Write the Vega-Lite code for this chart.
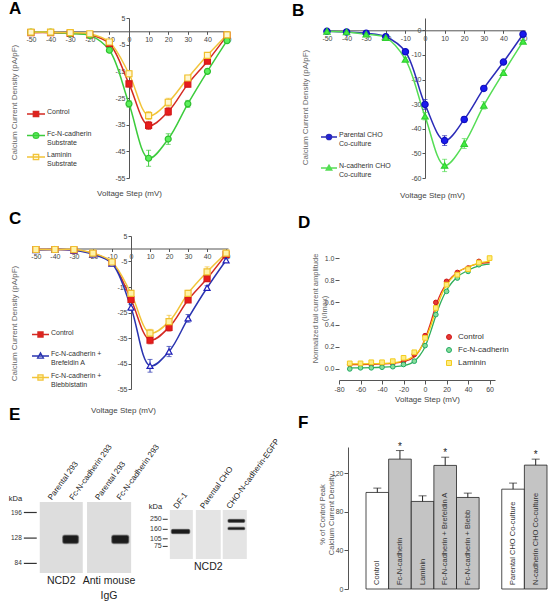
{
  "$schema": "https://vega.github.io/schema/vega-lite/v6.json",
  "autosize": {"type": "none"},
  "padding": {"left": 29, "top": 18, "right": 529, "bottom": 583},
  "background": "white",
  "config": {
    "font": "Liberation Sans",
    "view": {"stroke": null},
    "axis": {"grid": false, "labelFontSize": 7, "labelColor": "#444", "domainColor": "#555", "tickColor": "#555", "tickSize": 3, "titleFontSize": 8, "titleFontWeight": "normal", "titleColor": "#666", "labelFlush": false, "labelOverlap": false, "labelPadding": 1},
    "title": {"fontSize": 17, "fontWeight": "bold", "anchor": "start", "frame": "group", "baseline": "alphabetic", "color": "#000"}
  },
  "datasets": {
    "ivA": [
      {"s":"Control","v":-50,"i":-0.5,"e":0.2},{"s":"Control","v":-40,"i":-0.5,"e":0.2},{"s":"Control","v":-30,"i":-0.8,"e":0.2},{"s":"Control","v":-20,"i":-1.3,"e":0.3},{"s":"Control","v":-10,"i":-4.6,"e":0.6},{"s":"Control","v":0,"i":-19.7,"e":1.2},{"s":"Control","v":10,"i":-35.3,"e":1.5},{"s":"Control","v":20,"i":-30.1,"e":1.5},{"s":"Control","v":30,"i":-19.8,"e":1.0},{"s":"Control","v":40,"i":-11.2,"e":0.8},{"s":"Control","v":50,"i":-1.5,"e":0.5},
      {"s":"Fc-N-cadherin|Substrate","v":-50,"i":-0.3,"e":0.2},{"s":"Fc-N-cadherin|Substrate","v":-40,"i":-0.3,"e":0.2},{"s":"Fc-N-cadherin|Substrate","v":-30,"i":-0.8,"e":0.2},{"s":"Fc-N-cadherin|Substrate","v":-20,"i":-1.5,"e":0.3},{"s":"Fc-N-cadherin|Substrate","v":-10,"i":-7.1,"e":0.8},{"s":"Fc-N-cadherin|Substrate","v":0,"i":-27.2,"e":1.2},{"s":"Fc-N-cadherin|Substrate","v":10,"i":-47.6,"e":3.0},{"s":"Fc-N-cadherin|Substrate","v":20,"i":-40.4,"e":2.0},{"s":"Fc-N-cadherin|Substrate","v":30,"i":-27.2,"e":1.3},{"s":"Fc-N-cadherin|Substrate","v":40,"i":-15.0,"e":0.8},{"s":"Fc-N-cadherin|Substrate","v":50,"i":-3.5,"e":0.5},
      {"s":"Laminin|Substrate","v":-50,"i":-0.3,"e":0.2},{"s":"Laminin|Substrate","v":-40,"i":-0.3,"e":0.2},{"s":"Laminin|Substrate","v":-30,"i":-0.5,"e":0.2},{"s":"Laminin|Substrate","v":-20,"i":-0.9,"e":0.3},{"s":"Laminin|Substrate","v":-10,"i":-4.0,"e":0.6},{"s":"Laminin|Substrate","v":0,"i":-15.9,"e":1.2},{"s":"Laminin|Substrate","v":10,"i":-31.6,"e":1.5},{"s":"Laminin|Substrate","v":20,"i":-26.6,"e":1.5},{"s":"Laminin|Substrate","v":30,"i":-17.5,"e":1.0},{"s":"Laminin|Substrate","v":40,"i":-9.0,"e":0.8},{"s":"Laminin|Substrate","v":50,"i":-1.3,"e":0.5}
    ],
    "ivB": [
      {"s":"Parental CHO|Co-culture","v":-50,"i":-0.4,"e":0.2},{"s":"Parental CHO|Co-culture","v":-40,"i":-0.7,"e":0.2},{"s":"Parental CHO|Co-culture","v":-30,"i":-1.2,"e":0.2},{"s":"Parental CHO|Co-culture","v":-20,"i":-2.6,"e":0.3},{"s":"Parental CHO|Co-culture","v":-10,"i":-8.7,"e":0.8},{"s":"Parental CHO|Co-culture","v":0,"i":-30.1,"e":2.0},{"s":"Parental CHO|Co-culture","v":10,"i":-44.8,"e":2.0},{"s":"Parental CHO|Co-culture","v":20,"i":-36.2,"e":1.2},{"s":"Parental CHO|Co-culture","v":30,"i":-23.6,"e":0.8},{"s":"Parental CHO|Co-culture","v":40,"i":-12.9,"e":0.6},{"s":"Parental CHO|Co-culture","v":50,"i":-1.6,"e":0.4},
      {"s":"N-cadherin CHO|Co-culture","v":-50,"i":-0.4,"e":0.2},{"s":"N-cadherin CHO|Co-culture","v":-40,"i":-0.7,"e":0.2},{"s":"N-cadherin CHO|Co-culture","v":-30,"i":-1.6,"e":0.2},{"s":"N-cadherin CHO|Co-culture","v":-20,"i":-3.0,"e":0.3},{"s":"N-cadherin CHO|Co-culture","v":-10,"i":-11.8,"e":0.8},{"s":"N-cadherin CHO|Co-culture","v":0,"i":-34.9,"e":1.5},{"s":"N-cadherin CHO|Co-culture","v":10,"i":-54.9,"e":2.5},{"s":"N-cadherin CHO|Co-culture","v":20,"i":-46.0,"e":2.0},{"s":"N-cadherin CHO|Co-culture","v":30,"i":-30.5,"e":1.5},{"s":"N-cadherin CHO|Co-culture","v":40,"i":-17.2,"e":1.0},{"s":"N-cadherin CHO|Co-culture","v":50,"i":-4.5,"e":0.5}
    ],
    "ivC": [
      {"s":"Control","v":-50,"i":-0.3,"e":0.2},{"s":"Control","v":-40,"i":-0.3,"e":0.2},{"s":"Control","v":-30,"i":-0.5,"e":0.2},{"s":"Control","v":-20,"i":-1.9,"e":0.3},{"s":"Control","v":-10,"i":-5.5,"e":0.5},{"s":"Control","v":0,"i":-19.9,"e":1.0},{"s":"Control","v":10,"i":-35.8,"e":1.5},{"s":"Control","v":20,"i":-30.8,"e":1.5},{"s":"Control","v":30,"i":-20.1,"e":1.0},{"s":"Control","v":40,"i":-11.7,"e":1.0},{"s":"Control","v":50,"i":-2.2,"e":0.6},
      {"s":"Fc-N-cadherin +|Brefeldin A","v":-50,"i":-0.5,"e":0.2},{"s":"Fc-N-cadherin +|Brefeldin A","v":-40,"i":-0.3,"e":0.2},{"s":"Fc-N-cadherin +|Brefeldin A","v":-30,"i":-0.6,"e":0.2},{"s":"Fc-N-cadherin +|Brefeldin A","v":-20,"i":-2.2,"e":0.3},{"s":"Fc-N-cadherin +|Brefeldin A","v":-10,"i":-5.8,"e":0.5},{"s":"Fc-N-cadherin +|Brefeldin A","v":0,"i":-23.0,"e":1.2},{"s":"Fc-N-cadherin +|Brefeldin A","v":10,"i":-45.9,"e":2.5},{"s":"Fc-N-cadherin +|Brefeldin A","v":20,"i":-40.3,"e":2.0},{"s":"Fc-N-cadherin +|Brefeldin A","v":30,"i":-27.3,"e":1.5},{"s":"Fc-N-cadherin +|Brefeldin A","v":40,"i":-15.3,"e":0.8},{"s":"Fc-N-cadherin +|Brefeldin A","v":50,"i":-4.5,"e":0.5},
      {"s":"Fc-N-cadherin +|Blebbistatin","v":-50,"i":-0.3,"e":0.2},{"s":"Fc-N-cadherin +|Blebbistatin","v":-40,"i":-0.3,"e":0.2},{"s":"Fc-N-cadherin +|Blebbistatin","v":-30,"i":-0.3,"e":0.2},{"s":"Fc-N-cadherin +|Blebbistatin","v":-20,"i":-1.7,"e":0.3},{"s":"Fc-N-cadherin +|Blebbistatin","v":-10,"i":-5.2,"e":0.5},{"s":"Fc-N-cadherin +|Blebbistatin","v":0,"i":-17.5,"e":1.2},{"s":"Fc-N-cadherin +|Blebbistatin","v":10,"i":-33.1,"e":1.5},{"s":"Fc-N-cadherin +|Blebbistatin","v":20,"i":-28.6,"e":2.5},{"s":"Fc-N-cadherin +|Blebbistatin","v":30,"i":-17.5,"e":1.2},{"s":"Fc-N-cadherin +|Blebbistatin","v":40,"i":-9.1,"e":2.0},{"s":"Fc-N-cadherin +|Blebbistatin","v":50,"i":-1.7,"e":0.6}
    ],
    "dPts": [
      {"s":"Control","v":-70,"y":0.04},{"s":"Control","v":-60,"y":0.04},{"s":"Control","v":-50,"y":0.04},{"s":"Control","v":-40,"y":0.045},{"s":"Control","v":-30,"y":0.05},{"s":"Control","v":-20,"y":0.07},{"s":"Control","v":-10,"y":0.13},{"s":"Control","v":0,"y":0.3},{"s":"Control","v":10,"y":0.6},{"s":"Control","v":20,"y":0.79},{"s":"Control","v":30,"y":0.87},{"s":"Control","v":40,"y":0.91},{"s":"Control","v":50,"y":0.97},
      {"s":"Fc-N-cadherin","v":-70,"y":0.0},{"s":"Fc-N-cadherin","v":-60,"y":0.01},{"s":"Fc-N-cadherin","v":-50,"y":0.01},{"s":"Fc-N-cadherin","v":-40,"y":0.015},{"s":"Fc-N-cadherin","v":-30,"y":0.02},{"s":"Fc-N-cadherin","v":-20,"y":0.04},{"s":"Fc-N-cadherin","v":-10,"y":0.07},{"s":"Fc-N-cadherin","v":0,"y":0.21},{"s":"Fc-N-cadherin","v":10,"y":0.49},{"s":"Fc-N-cadherin","v":20,"y":0.7},{"s":"Fc-N-cadherin","v":30,"y":0.82},{"s":"Fc-N-cadherin","v":40,"y":0.88},{"s":"Fc-N-cadherin","v":50,"y":0.94},
      {"s":"Laminin","v":-70,"y":0.05},{"s":"Laminin","v":-60,"y":0.05},{"s":"Laminin","v":-50,"y":0.06},{"s":"Laminin","v":-40,"y":0.06},{"s":"Laminin","v":-30,"y":0.07},{"s":"Laminin","v":-20,"y":0.1},{"s":"Laminin","v":-10,"y":0.15},{"s":"Laminin","v":0,"y":0.28},{"s":"Laminin","v":10,"y":0.55},{"s":"Laminin","v":20,"y":0.76},{"s":"Laminin","v":30,"y":0.85},{"s":"Laminin","v":40,"y":0.9},{"s":"Laminin","v":50,"y":0.96},{"s":"Laminin","v":60,"y":1.0}
    ],
    "dFit": [
      {"s":"Control","v":-70,"y":0.04},{"s":"Control","v":-60,"y":0.04},{"s":"Control","v":-50,"y":0.042},{"s":"Control","v":-40,"y":0.045},{"s":"Control","v":-30,"y":0.05},{"s":"Control","v":-20,"y":0.065},{"s":"Control","v":-10,"y":0.11},{"s":"Control","v":-5,"y":0.17},{"s":"Control","v":0,"y":0.27},{"s":"Control","v":5,"y":0.41},{"s":"Control","v":10,"y":0.57},{"s":"Control","v":15,"y":0.69},{"s":"Control","v":20,"y":0.77},{"s":"Control","v":25,"y":0.83},{"s":"Control","v":30,"y":0.87},{"s":"Control","v":40,"y":0.92},{"s":"Control","v":50,"y":0.95},{"s":"Control","v":60,"y":0.96},
      {"s":"Fc-N-cadherin","v":-70,"y":0.01},{"s":"Fc-N-cadherin","v":-50,"y":0.012},{"s":"Fc-N-cadherin","v":-40,"y":0.015},{"s":"Fc-N-cadherin","v":-30,"y":0.02},{"s":"Fc-N-cadherin","v":-20,"y":0.03},{"s":"Fc-N-cadherin","v":-10,"y":0.07},{"s":"Fc-N-cadherin","v":-5,"y":0.12},{"s":"Fc-N-cadherin","v":0,"y":0.2},{"s":"Fc-N-cadherin","v":5,"y":0.33},{"s":"Fc-N-cadherin","v":10,"y":0.48},{"s":"Fc-N-cadherin","v":15,"y":0.61},{"s":"Fc-N-cadherin","v":20,"y":0.71},{"s":"Fc-N-cadherin","v":25,"y":0.78},{"s":"Fc-N-cadherin","v":30,"y":0.83},{"s":"Fc-N-cadherin","v":40,"y":0.89},{"s":"Fc-N-cadherin","v":50,"y":0.93},{"s":"Fc-N-cadherin","v":60,"y":0.945},
      {"s":"Laminin","v":-70,"y":0.045},{"s":"Laminin","v":-50,"y":0.047},{"s":"Laminin","v":-40,"y":0.05},{"s":"Laminin","v":-30,"y":0.055},{"s":"Laminin","v":-20,"y":0.07},{"s":"Laminin","v":-10,"y":0.12},{"s":"Laminin","v":-5,"y":0.17},{"s":"Laminin","v":0,"y":0.26},{"s":"Laminin","v":5,"y":0.38},{"s":"Laminin","v":10,"y":0.53},{"s":"Laminin","v":15,"y":0.66},{"s":"Laminin","v":20,"y":0.76},{"s":"Laminin","v":25,"y":0.82},{"s":"Laminin","v":30,"y":0.87},{"s":"Laminin","v":40,"y":0.92},{"s":"Laminin","v":50,"y":0.955},{"s":"Laminin","v":60,"y":0.97}
    ],
    "fBars": [
      {"cond":"Control","val":100,"hi":104.5,"sig":false},
      {"cond":"Fc-N-cadherin","val":134.5,"hi":143.4,"sig":true},
      {"cond":"Laminin","val":90.7,"hi":96.5,"sig":false},
      {"cond":"Fc-N-cadherin + Brefeldin A","val":128,"hi":136.5,"sig":true},
      {"cond":"Fc-N-cadherin + Blebb","val":94.8,"hi":99.3,"sig":false},
      {"cond":"Parental CHO Co-culture","val":103.4,"hi":109.7,"sig":false},
      {"cond":"N-cadherin CHO Co-culture","val":128.3,"hi":134.5,"sig":true}
    ],
    "eMem": [
      {"g":"L","lane_from":0.5,"lane_to":2.5,"kd_top":233,"kd_bot":71.7},
      {"g":"L","lane_from":2.7,"lane_to":4.75,"kd_top":233,"kd_bot":71.7},
      {"g":"R","lane_from":6.55,"lane_to":7.62,"kd_top":378,"kd_bot":42.9},
      {"g":"R","lane_from":7.76,"lane_to":8.92,"kd_top":378,"kd_bot":42.9},
      {"g":"R","lane_from":9.01,"lane_to":10.13,"kd_top":378,"kd_bot":42.9}
    ],
    "eBand": [
      {"g":"L","lane_from":1.57,"lane_to":2.3,"kd_top":134,"kd_bot":117},
      {"g":"L","lane_from":3.85,"lane_to":4.64,"kd_top":134,"kd_bot":117},
      {"g":"R","lane_from":6.62,"lane_to":7.48,"kd_top":160,"kd_bot":132},
      {"g":"R","lane_from":9.25,"lane_to":10.04,"kd_top":250,"kd_bot":218},
      {"g":"R","lane_from":9.25,"lane_to":10.04,"kd_top":176,"kd_bot":157}
    ],
    "eMark": [
      {"g":"L","kDa":196,"lane_from":-0.24,"lane_to":0.36},
      {"g":"L","kDa":128,"lane_from":-0.24,"lane_to":0.36},
      {"g":"L","kDa":84,"lane_from":-0.24,"lane_to":0.36},
      {"g":"R","kDa":250,"lane_from":6.22,"lane_to":6.45},
      {"g":"R","kDa":160,"lane_from":6.22,"lane_to":6.45},
      {"g":"R","kDa":105,"lane_from":6.22,"lane_to":6.45},
      {"g":"R","kDa":75,"lane_from":6.22,"lane_to":6.45}
    ],
    "eHead": [
      {"g":"L","lane":-0.94,"kDa":245,"text":"kDa"},
      {"g":"R","lane":5.57,"kDa":433,"text":"kDa"}
    ],
    "eLane": [
      {"g":"L","lane":1.0,"kDa":233,"text":"Parental 293"},
      {"g":"L","lane":2.0,"kDa":233,"text":"Fc-N-cadherin 293"},
      {"g":"L","lane":3.2,"kDa":233,"text":"Parental 293"},
      {"g":"L","lane":4.2,"kDa":233,"text":"Fc-N-cadherin 293"},
      {"g":"R","lane":7.1,"kDa":378,"text":"DF-1"},
      {"g":"R","lane":8.34,"kDa":378,"text":"Parental CHO"},
      {"g":"R","lane":9.57,"kDa":378,"text":"CHO-N-cadherin-EGFP"}
    ],
    "eCap": [
      {"g":"L","lane":1.5,"kDa":71.7,"text":"NCD2"},
      {"g":"L","lane":3.72,"kDa":71.7,"text":"Anti mouse|IgG"},
      {"g":"R","lane":8.34,"kDa":42.9,"text":"NCD2"}
    ]
  },
  "columns": 2,
  "spacing": {"row": 58, "column": 96},
  "bounds": "flush",
  "resolve": {"scale": {"color": "independent", "fill": "independent", "stroke": "independent", "shape": "independent"}},
  "concat": [
    {
      "width": 200, "height": 160,
      "title": {"text": "A", "dx": -20, "offset": -4},
      "data": {"name": "ivA"},
      "resolve": {"scale": {"shape": "independent", "fill": "independent", "stroke": "independent"}},
      "encoding": {
        "x": {"field": "v", "type": "quantitative", "scale": {"domain": [-51, 51], "nice": false, "zero": false},
              "axis": {"title": "Voltage Step (mV)", "values": [-50,-40,-30,-20,-10,0,10,20,30,40,50], "offset": -146.7, "labelExpr": "'' + datum.value", "labelOverlap": false, "titleX": 100, "titleY": 158, "titleColor": "#444"}},
        "y": {"field": "i", "type": "quantitative", "scale": {"domain": [-55, 5], "nice": false, "zero": false},
              "axis": {"title": "Calcium Current Density (pA/pF)", "values": [5,-5,-15,-25,-35,-45,-55], "offset": -100, "labelExpr": "'' + datum.value", "labelOverlap": false, "titleX": -111, "titleY": 84}}
      },
      "layer": [
        {"mark": {"type": "line", "interpolate": "catmull-rom", "strokeWidth": 1.5},
         "encoding": {"color": {"field": "s", "type": "nominal", "scale": {"domain": ["Control", "Fc-N-cadherin|Substrate", "Laminin|Substrate"], "range": ["#d42a22", "#3ccc3c", "#f2c43a"]}, "legend": null}}},
        {"mark": {"type": "errorbar", "ticks": true, "thickness": 1},
         "encoding": {"yError": {"field": "e"}, "color": {"field": "s", "type": "nominal", "legend": null}}},
        {"mark": {"type": "point", "size": 36, "strokeWidth": 1.2, "opacity": 1},
         "encoding": {
           "shape": {"field": "s", "type": "nominal", "scale": {"domain": ["Control", "Fc-N-cadherin|Substrate", "Laminin|Substrate"], "range": ["square", "circle", "square"]}, "legend": null},
           "fill": {"field": "s", "type": "nominal", "scale": {"domain": ["Control", "Fc-N-cadherin|Substrate", "Laminin|Substrate"], "range": ["#e81c1c", "#5cf05c", "#fff7d0"]}, "legend": null},
           "stroke": {"field": "s", "type": "nominal", "scale": {"domain": ["Control", "Fc-N-cadherin|Substrate", "Laminin|Substrate"], "range": ["#d41a1a", "#2fbf2f", "#f0bf2a"]}, "legend": null}
         }},
        {"transform": [{"filter": "datum.v === -50"}],
         "mark": {"type": "point", "opacity": 0, "strokeWidth": 1.3},
         "encoding": {
           "shape": {"field": "s", "type": "nominal", "scale": {"domain": ["Control", "Fc-N-cadherin|Substrate", "Laminin|Substrate"], "range": ["M-1,0H1M-0.3,-0.3H0.3V0.3H-0.3Z", "M-1,0H1M0.32,0A0.32,0.32,0,1,1,-0.32,0A0.32,0.32,0,1,1,0.32,0Z", "M-1,0H1M-0.3,-0.3H0.3V0.3H-0.3Z"]},
                     "legend": {"orient": "none", "legendX": -3, "legendY": 86, "title": null, "labelFontSize": 7, "labelColor": "#333", "symbolSize": 324, "symbolStrokeWidth": 1.3, "symbolOpacity": 1, "labelOffset": 1, "rowPadding": 1.5, "labelExpr": "datum.label === 'Control' ? ['Control', ''] : split(datum.label, '|')", "labelBaseline": "alphabetic"}},
           "fill": {"field": "s", "type": "nominal", "scale": {"domain": ["Control", "Fc-N-cadherin|Substrate", "Laminin|Substrate"], "range": ["#e81c1c", "#5cf05c", "#fff7d0"]}},
           "stroke": {"field": "s", "type": "nominal", "scale": {"domain": ["Control", "Fc-N-cadherin|Substrate", "Laminin|Substrate"], "range": ["#d42a22", "#3ccc3c", "#f2c43a"]}}
         }}
      ]
    },
    {
      "width": 200, "height": 160,
      "title": {"text": "B", "dx": -33, "offset": -2},
      "data": {"name": "ivB"},
      "resolve": {"scale": {"shape": "independent", "fill": "independent", "stroke": "independent"}},
      "encoding": {
        "x": {"field": "v", "type": "quantitative", "scale": {"domain": [-51, 51], "nice": false, "zero": false},
              "axis": {"title": "Voltage Step (mV)", "values": [-50,-40,-30,-20,-10,0,10,20,30,40,50], "offset": -147.7, "labelExpr": "'' + datum.value", "labelOverlap": false, "titleX": 107, "titleY": 160.7, "titleColor": "#444"}},
        "y": {"field": "i", "type": "quantitative", "scale": {"domain": [-60, 5], "nice": false, "zero": false},
              "axis": {"title": "Calcium Current Density (pA/pF)", "values": [0,-10,-20,-30,-40,-50,-60], "offset": -100, "labelExpr": "'' + datum.value", "labelOverlap": false, "titleX": -116, "titleY": 89}}
      },
      "layer": [
        {"mark": {"type": "line", "interpolate": "catmull-rom", "strokeWidth": 1.5},
         "encoding": {"color": {"field": "s", "type": "nominal", "scale": {"domain": ["Parental CHO|Co-culture", "N-cadherin CHO|Co-culture"], "range": ["#2b2bb8", "#55dd55"]}, "legend": null}}},
        {"mark": {"type": "errorbar", "ticks": true, "thickness": 1},
         "encoding": {"yError": {"field": "e"}, "color": {"field": "s", "type": "nominal", "legend": null}}},
        {"mark": {"type": "point", "size": 40, "strokeWidth": 1.2, "opacity": 1},
         "encoding": {
           "shape": {"field": "s", "type": "nominal", "scale": {"domain": ["Parental CHO|Co-culture", "N-cadherin CHO|Co-culture"], "range": ["circle", "triangle-up"]}, "legend": null},
           "fill": {"field": "s", "type": "nominal", "scale": {"domain": ["Parental CHO|Co-culture", "N-cadherin CHO|Co-culture"], "range": ["#1a1aee", "#44ee44"]}, "legend": null},
           "stroke": {"field": "s", "type": "nominal", "scale": {"domain": ["Parental CHO|Co-culture", "N-cadherin CHO|Co-culture"], "range": ["#1010c0", "#30d030"]}, "legend": null}
         }},
        {"transform": [{"filter": "datum.v === -50"}],
         "mark": {"type": "point", "opacity": 0, "strokeWidth": 1.3},
         "encoding": {
           "shape": {"field": "s", "type": "nominal", "scale": {"domain": ["Parental CHO|Co-culture", "N-cadherin CHO|Co-culture"], "range": ["M-1,0H1M0.34,0A0.34,0.34,0,1,1,-0.34,0A0.34,0.34,0,1,1,0.34,0Z", "M-1,0H1M0,-0.38L0.36,0.26H-0.36Z"]},
                     "legend": {"orient": "none", "legendX": -5, "legendY": 110, "title": null, "labelFontSize": 7, "labelColor": "#333", "symbolSize": 256, "symbolStrokeWidth": 1.3, "symbolOpacity": 1, "labelOffset": 1, "rowPadding": 12, "labelExpr": "split(datum.label, '|')", "labelBaseline": "alphabetic"}},
           "fill": {"field": "s", "type": "nominal", "scale": {"domain": ["Parental CHO|Co-culture", "N-cadherin CHO|Co-culture"], "range": ["#1a1aee", "#44ee44"]}},
           "stroke": {"field": "s", "type": "nominal", "scale": {"domain": ["Parental CHO|Co-culture", "N-cadherin CHO|Co-culture"], "range": ["#2b2bb8", "#55dd55"]}}
         }}
      ]
    },
    {
      "width": 200, "height": 153,
      "title": {"text": "C", "dx": -20, "offset": 4},
      "data": {"name": "ivC"},
      "resolve": {"scale": {"shape": "independent", "fill": "independent", "stroke": "independent"}},
      "encoding": {
        "x": {"field": "v", "type": "quantitative", "scale": {"domain": [-51, 51], "range": [5, 199], "nice": false, "zero": false},
              "axis": {"title": "Voltage Step (mV)", "values": [-50,-40,-30,-20,-10,0,10,20,30,40,50], "offset": -140.5, "labelExpr": "'' + datum.value", "labelOverlap": false, "titleX": 94, "titleY": 157.5, "titleColor": "#444"}},
        "y": {"field": "i", "type": "quantitative", "scale": {"domain": [-55, 5], "nice": false, "zero": false},
              "axis": {"title": "Calcium Current Density (pA/pF)", "values": [5,-5,-15,-25,-35,-45,-55], "offset": -102, "labelExpr": "'' + datum.value", "labelOverlap": false, "titleX": -113, "titleY": 87}}
      },
      "layer": [
        {"mark": {"type": "line", "interpolate": "catmull-rom", "strokeWidth": 1.5},
         "encoding": {"color": {"field": "s", "type": "nominal", "scale": {"domain": ["Control", "Fc-N-cadherin +|Brefeldin A", "Fc-N-cadherin +|Blebbistatin"], "range": ["#d42a22", "#2a34b0", "#f2c43a"]}, "legend": null}}},
        {"mark": {"type": "errorbar", "ticks": true, "thickness": 1},
         "encoding": {"yError": {"field": "e"}, "color": {"field": "s", "type": "nominal", "legend": null}}},
        {"mark": {"type": "point", "size": 36, "strokeWidth": 1.2, "opacity": 1},
         "encoding": {
           "shape": {"field": "s", "type": "nominal", "scale": {"domain": ["Control", "Fc-N-cadherin +|Brefeldin A", "Fc-N-cadherin +|Blebbistatin"], "range": ["square", "triangle-up", "square"]}, "legend": null},
           "fill": {"field": "s", "type": "nominal", "scale": {"domain": ["Control", "Fc-N-cadherin +|Brefeldin A", "Fc-N-cadherin +|Blebbistatin"], "range": ["#e81c1c", "#ffffff", "#fff3a8"]}, "legend": null},
           "stroke": {"field": "s", "type": "nominal", "scale": {"domain": ["Control", "Fc-N-cadherin +|Brefeldin A", "Fc-N-cadherin +|Blebbistatin"], "range": ["#d41a1a", "#2020b8", "#f0c030"]}, "legend": null}
         }},
        {"transform": [{"filter": "datum.v === -50"}],
         "mark": {"type": "point", "opacity": 0, "strokeWidth": 1.3},
         "encoding": {
           "shape": {"field": "s", "type": "nominal", "scale": {"domain": ["Control", "Fc-N-cadherin +|Brefeldin A", "Fc-N-cadherin +|Blebbistatin"], "range": ["M-1,0H1M-0.3,-0.3H0.3V0.3H-0.3Z", "M-1,0H1M0,-0.36L0.34,0.24H-0.34Z", "M-1,0H1M-0.3,-0.3H0.3V0.3H-0.3Z"]},
                     "legend": {"orient": "none", "legendX": 2, "legendY": 89, "title": null, "labelFontSize": 7, "labelColor": "#333", "symbolSize": 289, "symbolStrokeWidth": 1.3, "symbolOpacity": 1, "labelOffset": 1, "rowPadding": 1.5, "labelExpr": "datum.label === 'Control' ? ['Control', ''] : split(datum.label, '|')", "labelBaseline": "alphabetic"}},
           "fill": {"field": "s", "type": "nominal", "scale": {"domain": ["Control", "Fc-N-cadherin +|Brefeldin A", "Fc-N-cadherin +|Blebbistatin"], "range": ["#e81c1c", "#ffffff", "#fff3a8"]}},
           "stroke": {"field": "s", "type": "nominal", "scale": {"domain": ["Control", "Fc-N-cadherin +|Brefeldin A", "Fc-N-cadherin +|Blebbistatin"], "range": ["#d42a22", "#2a34b0", "#f2c43a"]}}
         }}
      ]
    },
    {
      "width": 200, "height": 144,
      "title": {"text": "D", "dx": -27, "offset": 4},
      "resolve": {"scale": {"shape": "independent", "fill": "independent", "stroke": "independent"}},
      "encoding": {
        "x": {"field": "v", "type": "quantitative", "scale": {"domain": [-80, 65], "range": [14, 170], "nice": false, "zero": false},
              "axis": {"title": "Voltage Step (mV)", "values": [-80,-60,-40,-20,0,20,40,60], "labelExpr": "'' + datum.value", "labelOverlap": false, "labelBound": false, "titleX": 102, "titleY": 15, "titleColor": "#444", "tickSize": 4}},
        "y": {"field": "y", "type": "quantitative", "scale": {"domain": [-0.1, 1.1993], "nice": false, "zero": false},
              "axis": {"title": ["Normalized tail current amplitude", "(I/Imax)"], "values": [0, 0.2, 0.4, 0.6, 0.8, 1.0], "offset": -14, "domain": false, "format": ".1f", "labelOverlap": false, "labelBound": false, "titleX": -20, "titleY": 72, "tickSize": 4, "titleFontSize": 7.5}}
      },
      "layer": [
        {"mark": {"type": "rule", "color": "#555", "strokeWidth": 1},
         "encoding": {"x": {"datum": -80}, "y": {"datum": -0.1}, "y2": {"datum": 1.1}}},
        {"data": {"name": "dFit"},
         "mark": {"type": "line", "interpolate": "monotone", "strokeWidth": 1.3},
         "encoding": {
           "color": {"field": "s", "type": "nominal", "scale": {"domain": ["Control", "Fc-N-cadherin", "Laminin"], "range": ["#e02a22", "#2fae5a", "#f4cf10"]}, "legend": null}
         }},
        {"data": {"name": "dPts"},
         "mark": {"type": "point", "size": 22, "strokeWidth": 1, "opacity": 1},
         "encoding": {
           "shape": {"field": "s", "type": "nominal", "scale": {"domain": ["Control", "Fc-N-cadherin", "Laminin"], "range": ["circle", "circle", "square"]}, "legend": null},
           "fill": {"field": "s", "type": "nominal", "scale": {"domain": ["Control", "Fc-N-cadherin", "Laminin"], "range": ["#e53935", "#88dd99", "#ffec80"]}, "legend": null},
           "stroke": {"field": "s", "type": "nominal", "scale": {"domain": ["Control", "Fc-N-cadherin", "Laminin"], "range": ["#d01818", "#22aa66", "#f2cc20"]}, "legend": null}
         }},
        {"data": {"name": "dPts"}, "transform": [{"filter": "datum.v === -70"}],
         "mark": {"type": "point", "opacity": 0, "strokeWidth": 1},
         "encoding": {
           "shape": {"field": "s", "type": "nominal", "scale": {"domain": ["Control", "Fc-N-cadherin", "Laminin"], "range": ["circle", "circle", "square"]},
                     "legend": {"orient": "none", "legendX": 120, "legendY": 97, "title": null, "labelFontSize": 8, "labelColor": "#333", "symbolSize": 25, "symbolStrokeWidth": 1, "symbolOpacity": 1, "rowPadding": 3, "labelOffset": 5}},
           "fill": {"field": "s", "type": "nominal", "scale": {"domain": ["Control", "Fc-N-cadherin", "Laminin"], "range": ["#e53935", "#88dd99", "#ffec80"]}},
           "stroke": {"field": "s", "type": "nominal", "scale": {"domain": ["Control", "Fc-N-cadherin", "Laminin"], "range": ["#d01818", "#22aa66", "#f2cc20"]}}
         }}
      ]
    },
    {
      "width": 200, "height": 150,
      "title": {"text": "E", "dx": -20, "offset": 14},
      "resolve": {"scale": {"y": "independent"}},
      "layer": [
        {
          "layer": [
            {"data": {"name": "eMem"}, "transform": [{"filter": "datum.g === 'L'"}],
             "mark": {"type": "rect", "fill": "#dddddd"},
             "encoding": {"x": {"field": "lane_from", "type": "quantitative", "scale": {"domain": [0, 9.302], "nice": false, "zero": false}, "axis": null}, "x2": {"field": "lane_to"},
                          "y": {"field": "kd_top", "type": "quantitative", "scale": {"type": "log", "domain": [84, 196], "range": [116.4, 65.5], "nice": false}, "axis": null}, "y2": {"field": "kd_bot"}}},
            {"data": {"name": "eBand"}, "transform": [{"filter": "datum.g === 'L'"}],
             "mark": {"type": "rect", "fill": "#1c1c1c", "stroke": "#555", "strokeWidth": 1.5, "strokeOpacity": 0.5, "cornerRadius": 2},
             "encoding": {"x": {"field": "lane_from", "type": "quantitative"}, "x2": {"field": "lane_to"}, "y": {"field": "kd_top", "type": "quantitative"}, "y2": {"field": "kd_bot"}}},
            {"data": {"name": "eMark"}, "transform": [{"filter": "datum.g === 'L'"}],
             "mark": {"type": "rule", "color": "#333", "strokeWidth": 1.2},
             "encoding": {"x": {"field": "lane_from", "type": "quantitative"}, "x2": {"field": "lane_to"}, "y": {"field": "kDa", "type": "quantitative"}}},
            {"data": {"name": "eMark"}, "transform": [{"filter": "datum.g === 'L'"}],
             "mark": {"type": "text", "align": "right", "baseline": "middle", "dx": -2, "fontSize": 6.5, "color": "#333"},
             "encoding": {"x": {"field": "lane_from", "type": "quantitative"}, "y": {"field": "kDa", "type": "quantitative"}, "text": {"field": "kDa"}}},
            {"data": {"name": "eHead"}, "transform": [{"filter": "datum.g === 'L'"}],
             "mark": {"type": "text", "align": "left", "baseline": "middle", "fontSize": 7.5, "color": "#222"},
             "encoding": {"x": {"field": "lane", "type": "quantitative"}, "y": {"field": "kDa", "type": "quantitative"}, "text": {"field": "text"}}},
            {"data": {"name": "eLane"}, "transform": [{"filter": "datum.g === 'L'"}],
             "mark": {"type": "text", "align": "left", "baseline": "bottom", "angle": 306, "dx": 2, "dy": 2, "fontSize": 8, "color": "#222"},
             "encoding": {"x": {"field": "lane", "type": "quantitative"}, "y": {"field": "kDa", "type": "quantitative"}, "text": {"field": "text"}}},
            {"data": {"name": "eCap"}, "transform": [{"filter": "datum.g === 'L'"}, {"calculate": "split(datum.text, '|')", "as": "lines"}],
             "mark": {"type": "text", "align": "center", "baseline": "top", "dy": 3, "fontSize": 10.5, "lineHeight": 15, "color": "#222"},
             "encoding": {"x": {"field": "lane", "type": "quantitative"}, "y": {"field": "kDa", "type": "quantitative"}, "text": {"field": "lines"}}}
          ]
        },
        {
          "layer": [
            {"data": {"name": "eMem"}, "transform": [{"filter": "datum.g === 'R'"}],
             "mark": {"type": "rect", "fill": "#e4e4e4"},
             "encoding": {"x": {"field": "lane_from", "type": "quantitative"}, "x2": {"field": "lane_to"},
                          "y": {"field": "kd_top", "type": "quantitative", "scale": {"type": "log", "domain": [75, 250], "range": [99.4, 72.3], "nice": false}, "axis": null}, "y2": {"field": "kd_bot"}}},
            {"data": {"name": "eBand"}, "transform": [{"filter": "datum.g === 'R'"}],
             "mark": {"type": "rect", "fill": "#1c1c1c", "stroke": "#555", "strokeWidth": 1.2, "strokeOpacity": 0.5, "cornerRadius": 1.5},
             "encoding": {"x": {"field": "lane_from", "type": "quantitative"}, "x2": {"field": "lane_to"}, "y": {"field": "kd_top", "type": "quantitative"}, "y2": {"field": "kd_bot"}}},
            {"data": {"name": "eMark"}, "transform": [{"filter": "datum.g === 'R'"}],
             "mark": {"type": "rule", "color": "#333", "strokeWidth": 1},
             "encoding": {"x": {"field": "lane_from", "type": "quantitative"}, "x2": {"field": "lane_to"}, "y": {"field": "kDa", "type": "quantitative"}}},
            {"data": {"name": "eMark"}, "transform": [{"filter": "datum.g === 'R'"}],
             "mark": {"type": "text", "align": "right", "baseline": "middle", "dx": -1, "fontSize": 7, "color": "#333"},
             "encoding": {"x": {"field": "lane_from", "type": "quantitative"}, "y": {"field": "kDa", "type": "quantitative"}, "text": {"field": "kDa"}}},
            {"data": {"name": "eHead"}, "transform": [{"filter": "datum.g === 'R'"}],
             "mark": {"type": "text", "align": "left", "baseline": "middle", "fontSize": 7.5, "color": "#222"},
             "encoding": {"x": {"field": "lane", "type": "quantitative"}, "y": {"field": "kDa", "type": "quantitative"}, "text": {"field": "text"}}},
            {"data": {"name": "eLane"}, "transform": [{"filter": "datum.g === 'R'"}],
             "mark": {"type": "text", "align": "left", "baseline": "bottom", "angle": 306, "dx": -2, "dy": -2, "fontSize": 8, "color": "#222"},
             "encoding": {"x": {"field": "lane", "type": "quantitative"}, "y": {"field": "kDa", "type": "quantitative"}, "text": {"field": "text"}}},
            {"data": {"name": "eCap"}, "transform": [{"filter": "datum.g === 'R'"}],
             "mark": {"type": "text", "align": "center", "baseline": "top", "dy": 3, "fontSize": 10.5, "color": "#222"},
             "encoding": {"x": {"field": "lane", "type": "quantitative"}, "y": {"field": "kDa", "type": "quantitative"}, "text": {"field": "text"}}}
          ]
        }
      ]
    },
    {
      "width": 200, "height": 142,
      "title": {"text": "F", "dx": -27, "offset": 10},
      "data": {"name": "fBars"},
      "encoding": {
        "x": {"field": "cond", "type": "nominal", "scale": {"domain": ["Control", "Fc-N-cadherin", "Laminin", "Fc-N-cadherin + Brefeldin A", "Fc-N-cadherin + Blebb", "gap", "Parental CHO Co-culture", "N-cadherin CHO Co-culture"], "range": [41, 222], "paddingInner": 0, "paddingOuter": 0}, "axis": null, "sort": null}
      },
      "layer": [
        {"mark": {"type": "bar", "stroke": "#222", "strokeWidth": 0.8},
         "encoding": {
           "y": {"field": "val", "type": "quantitative", "scale": {"domain": [0, 147.07], "nice": false},
                 "axis": {"title": ["% of Control Peak", "Calcium Current Density"], "values": [0,20,40,60,80,100,120,140], "offset": -23, "labelOverlap": false, "labelBound": false, "titleX": -22, "titleY": 67, "tickSize": 4, "titleFontSize": 7.5, "titleColor": "#555"}},
           "fill": {"condition": {"test": "datum.cond === 'Control' || datum.cond === 'Parental CHO Co-culture'", "value": "#ffffff"}, "value": "#c4c4c4"}
         }},
        {"mark": {"type": "rule", "color": "#222", "strokeWidth": 1},
         "encoding": {"y": {"field": "val", "type": "quantitative"}, "y2": {"field": "hi"}}},
        {"mark": {"type": "tick", "color": "#222", "size": 8, "thickness": 1},
         "encoding": {"y": {"field": "hi", "type": "quantitative"}}},
        {"mark": {"type": "text", "angle": 270, "align": "left", "baseline": "middle", "dx": 4, "fontSize": 7.5, "color": "#333"},
         "encoding": {"y": {"datum": 0}, "text": {"field": "cond"}}},
        {"transform": [{"filter": "datum.sig"}],
         "mark": {"type": "text", "text": "*", "dy": -4, "fontSize": 10, "color": "#222"},
         "encoding": {"y": {"field": "hi", "type": "quantitative"}}}
      ]
    }
  ]
}
